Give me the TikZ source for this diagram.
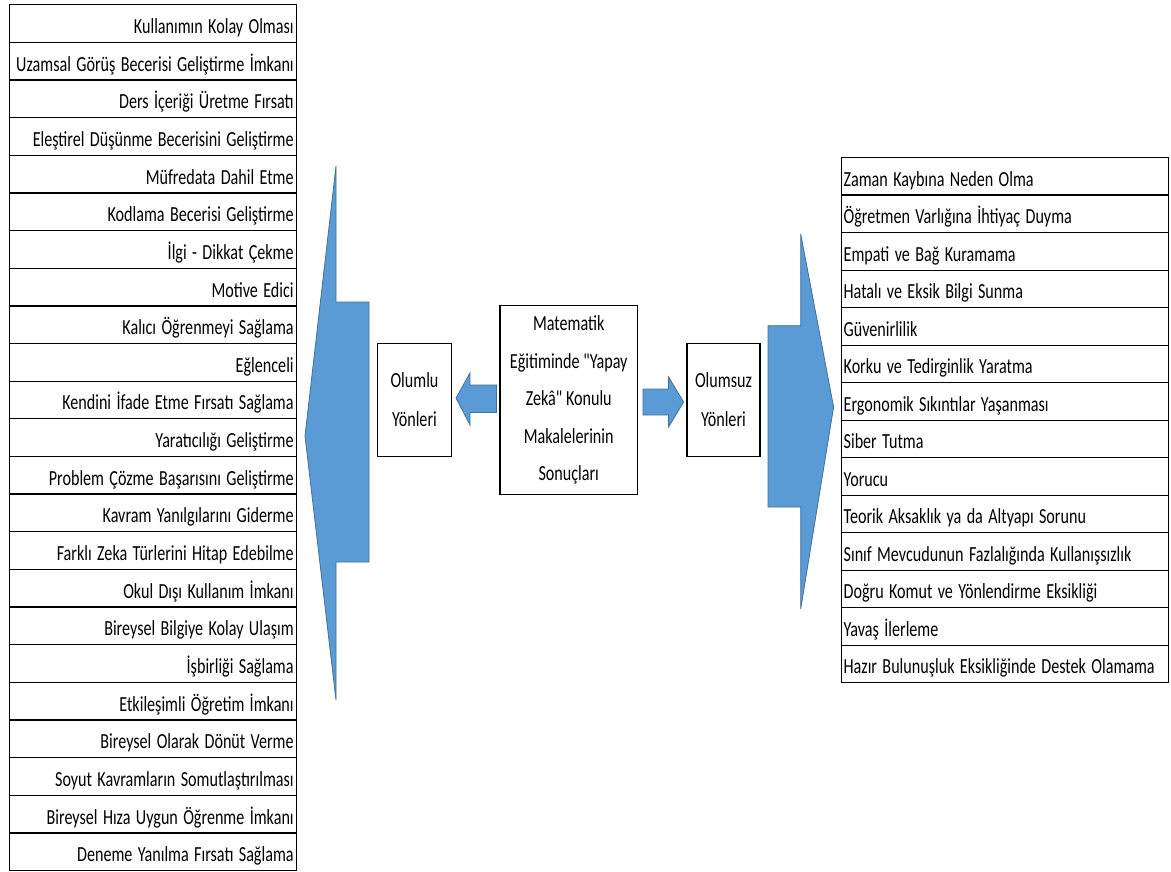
\documentclass[tikz,border=0pt]{standalone}
\usepackage{fontspec}
\usepackage{graphicx}
\setmainfont{Carlito}[Ligatures=TeXOff]
\newcommand{\narrowtxt}[1]{\scalebox{0.75}[1]{#1}}
\definecolor{arrowblue}{HTML}{5B9BD5}
\definecolor{arrowedge}{HTML}{41719C}
\begin{document}
\begin{tikzpicture}[x=1pt,y=-1pt,
  every node/.style={font=\fontsize{21.5}{24}\selectfont, inner sep=0pt},
  lrow/.style={draw=black, line width=1.3pt, minimum width=287pt, minimum height=37.65pt,
    inner xsep=3pt, text width=281pt, text height=20pt, text depth=0pt,
    align=right, anchor=north west},
  rrow/.style={draw=black, line width=1.3pt, minimum width=327pt, minimum height=37.5pt,
    inner xsep=2pt, text width=323pt, text height=20pt, text depth=0pt,
    align=left, anchor=north west},
  box/.style={draw=black, line width=1.3pt, align=center},
  blockarrow/.style={fill=arrowblue, draw=arrowedge, line width=0.8pt, line join=miter}]
\useasboundingbox (0,0) rectangle (1171,872);
\fill[white] (0,0) rectangle (1171,872);

% left table
\foreach \t [count=\i from 0] in {
 Kullanımın Kolay Olması,
 Uzamsal Görüş Becerisi Geliştirme İmkanı,
 Ders İçeriği Üretme Fırsatı,
 Eleştirel Düşünme Becerisini Geliştirme,
 Müfredata Dahil Etme,
 Kodlama Becerisi Geliştirme,
 İlgi - Dikkat Çekme,
 Motive Edici,
 Kalıcı Öğrenmeyi Sağlama,
 Eğlenceli,
 Kendini İfade Etme Fırsatı Sağlama,
 Yaratıcılığı Geliştirme,
 Problem Çözme Başarısını Geliştirme,
 Kavram Yanılgılarını Giderme,
 Farklı Zeka Türlerini Hitap Edebilme,
 Okul Dışı Kullanım İmkanı,
 Bireysel Bilgiye Kolay Ulaşım,
 İşbirliği Sağlama,
 Etkileşimli Öğretim İmkanı,
 Bireysel Olarak Dönüt Verme,
 Soyut Kavramların Somutlaştırılması,
 Bireysel Hıza Uygun Öğrenme İmkanı,
 Deneme Yanılma Fırsatı Sağlama}
 \node[lrow] (L\i) at (9,{4+37.65*\i}) {\narrowtxt{\t}};

% right table
\foreach \t [count=\i from 0] in {
 Zaman Kaybına Neden Olma,
 Öğretmen Varlığına İhtiyaç Duyma,
 Empati ve Bağ Kuramama,
 Hatalı ve Eksik Bilgi Sunma,
 Güvenirlilik,
 Korku ve Tedirginlik Yaratma,
 Ergonomik Sıkıntılar Yaşanması,
 Siber Tutma,
 Yorucu,
 Teorik Aksaklık ya da Altyapı Sorunu,
 Sınıf Mevcudunun Fazlalığında Kullanışsızlık,
 Doğru Komut ve Yönlendirme Eksikliği,
 Yavaş İlerleme,
 Hazır Bulunuşluk Eksikliğinde Destek Olamama}
 \node[rrow] (R\i) at (841,{157+37.5*\i}) {\narrowtxt{\t}};

% central boxes
\node[box, minimum width=137.5pt, minimum height=189pt,
  font=\fontsize{21.5}{37.4}\selectfont] (C) at (568.75,400)
  {\narrowtxt{Matematik}\\\narrowtxt{Eğitiminde "Yapay}\\\narrowtxt{Zekâ" Konulu}\\\narrowtxt{Makalelerinin}\\\narrowtxt{Sonuçları}};
\node[box, minimum width=74pt, minimum height=113.4pt,
  font=\fontsize{21.5}{39}\selectfont] (P) at (414.5,400) {\narrowtxt{Olumlu}\\\narrowtxt{Yönleri}};
\node[box, minimum width=73pt, minimum height=113.4pt,
  font=\fontsize{21.5}{39}\selectfont] (N) at (723.5,400) {\narrowtxt{Olumsuz}\\\narrowtxt{Yönleri}};

% block arrows
\draw[blockarrow] (305,436) -- (336,166) -- (336,302) -- (369,302) -- (369,562)
  -- (336,562) -- (336,700) -- cycle;
\draw[blockarrow] (456,398) -- (470,373) -- (470,385) -- (496.4,385) -- (496.4,412.5)
  -- (470,412.5) -- (470,425) -- cycle;
\draw[blockarrow] (643,389) -- (668.6,389) -- (668.6,377) -- (683.6,402) -- (668.6,427)
  -- (668.6,415) -- (643,415) -- cycle;
\draw[blockarrow] (768,325.7) -- (800.7,325.7) -- (800.7,234) -- (833.6,407)
  -- (800.7,609) -- (800.7,507) -- (768,507) -- cycle;
\end{tikzpicture}
\end{document}
